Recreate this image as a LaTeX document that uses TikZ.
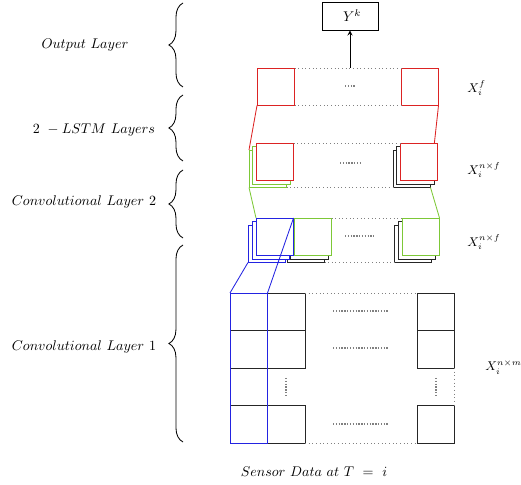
\documentclass[tikz,border=0pt]{standalone}
\usetikzlibrary{decorations.pathreplacing}

\definecolor{lyred}{RGB}{220,35,35}
\definecolor{lygreen}{RGB}{125,200,55}
\definecolor{lyblue}{RGB}{35,35,225}

\begin{document}
\begin{tikzpicture}[x=0.025cm,y=-0.025cm,>=stealth,line width=0.6pt]
    \tikzset{
        cell/.style={draw,fill=white,minimum size=0.9375cm,inner sep=0pt,outer sep=0pt,anchor=north west},
        redcell/.style={cell,draw=lyred},
        greencell/.style={cell,draw=lygreen},
        bluecell/.style={cell,draw=lyblue},
        blackcell/.style={cell,draw=black!85},
        dotline/.style={gray,dotted,line width=0.6pt},
        fillerdots/.style={gray,densely dotted,line width=1pt},
        bracket/.style={decorate,decoration={brace,amplitude=10pt}},
        dimlabel/.style={anchor=west,font=\small,inner sep=0pt}
    }
    \useasboundingbox (0,0) rectangle (521,485);

    \draw[bracket] (183,87) -- (183,3);
    \node (lblout) at (85,45) {$Output\ Layer$};
    \draw[bracket] (183,161) -- (183,95);
    \node (lbllstm) at (94,130) {$2\ - LSTM\ Layers$};
    \draw[bracket] (183,238) -- (183,170);
    \node (lblconvb) at (84,202) {$Convolutional\ Layer\ 2$};
    \draw[bracket] (183,442) -- (183,245);
    \node (lblconva) at (84,347) {$Convolutional\ Layer\ 1$};

    \node[redcell] (out1) at (257,68) {};
    \node[redcell] (out2) at (401,68) {};
    \draw[dotline] (out1.north east) -- (out2.north west);
    \draw[dotline] (out1.south east) -- (out2.south west);
    \draw[fillerdots] (345,86) -- (356,86);
    \node[draw,minimum width=1.4cm,minimum height=0.7cm] (yk) at (350,16) {\hspace{3pt}$Y^k$};
    \draw[->] (yk.south |- out1.north) -- (yk.south);

    \node[greencell] (lstmLb) at (249,150) {};
    \node[greencell] (lstmLa) at (252.5,146.5) {};
    \node[blackcell] (lstmRb) at (393,150) {};
    \node[blackcell] (lstmRa) at (396.5,146.5) {};
    \draw[lyred] (out1.south west) -- (lstmLb.north west);
    \draw[lyred] (out2.south east) -- (lstmRa.north east);
    \node[redcell] (lstmL) at (256,143) {};
    \node[redcell] (lstmR) at (400,143) {};
    \draw[dotline] (lstmL.north east) -- (lstmR.north west);
    \draw[dotline] (lstmLb.south east) -- (lstmRb.south west);
    \draw[fillerdots] (340,163) -- (360,163);

    \node[blackcell] (k2b) at (287,225) {};
    \node[blackcell] (k2a) at (290.5,221.5) {};
    \node[greencell] (c2) at (294,218) {};
    \node[bluecell] (c1c) at (248,225) {};
    \node[bluecell] (c1b) at (252,221.5) {};
    \node[bluecell] (c1) at (256,218) {};
    \node[blackcell] (k3b) at (394,225) {};
    \node[blackcell] (k3a) at (398,221.5) {};
    \node[greencell] (c3) at (402,218) {};
    \draw[dotline] (c2.north east) -- (c3.north west);
    \draw[dotline] (k2b.south east) -- (k3b.south west);
    \draw[fillerdots] (345,236) -- (374,236);
    \draw[lygreen] (lstmLb.south west) -- (c1.north west);
    \draw[lygreen] (lstmRb.south east) -- (c3.north east);

    \node[blackcell] (s11) at (230,293) {};
    \node[blackcell] (s12) at (267.5,293) {};
    \node[blackcell] (s21) at (230,330.5) {};
    \node[blackcell] (s22) at (267.5,330.5) {};
    \node[blackcell] (s41) at (230,405.5) {};
    \node[blackcell] (s42) at (267.5,405.5) {};
    \node[blackcell] (s1m) at (417,293) {};
    \node[blackcell] (s2m) at (417,330.5) {};
    \node[blackcell] (s4m) at (417,405.5) {};
    \node[draw=lyblue,minimum width=0.9375cm,minimum height=3.75cm,inner sep=0pt,outer sep=0pt,anchor=north west] (kern) at (230,293) {};
    \draw[dotline] (s12.north east) -- (s1m.north west);
    \draw[dotline] (s42.south east) -- (s4m.south west);
    \draw[dotline] (s2m.south east) -- (s4m.north east);
    \draw[fillerdots] (333,311) -- (388,311);
    \draw[fillerdots] (333,348) -- (388,348);
    \draw[fillerdots] (333,424) -- (388,424);
    \draw[fillerdots] (286,378) -- (286,395);
    \draw[fillerdots] (436,378) -- (436,395);
    \draw[lyblue] (kern.north west) -- (c1c.south west);
    \draw[lyblue] (kern.north east) -- (c1.north east);

    \node[dimlabel] (xf) at (467,88) {$X_i^f$};
    \node[dimlabel] (xnf) at (467,170) {$X_i^{n\times f}$};
    \node[dimlabel] (xnfb) at (467,242) {$X_i^{n\times f}$};
    \node[dimlabel] (xnm) at (485,367) {$X_i^{n\times m}$};
    \node (sensor) at (314,472) {$Sensor\ Data\ at\ T\ =\ i$};
\end{tikzpicture}
\end{document}
